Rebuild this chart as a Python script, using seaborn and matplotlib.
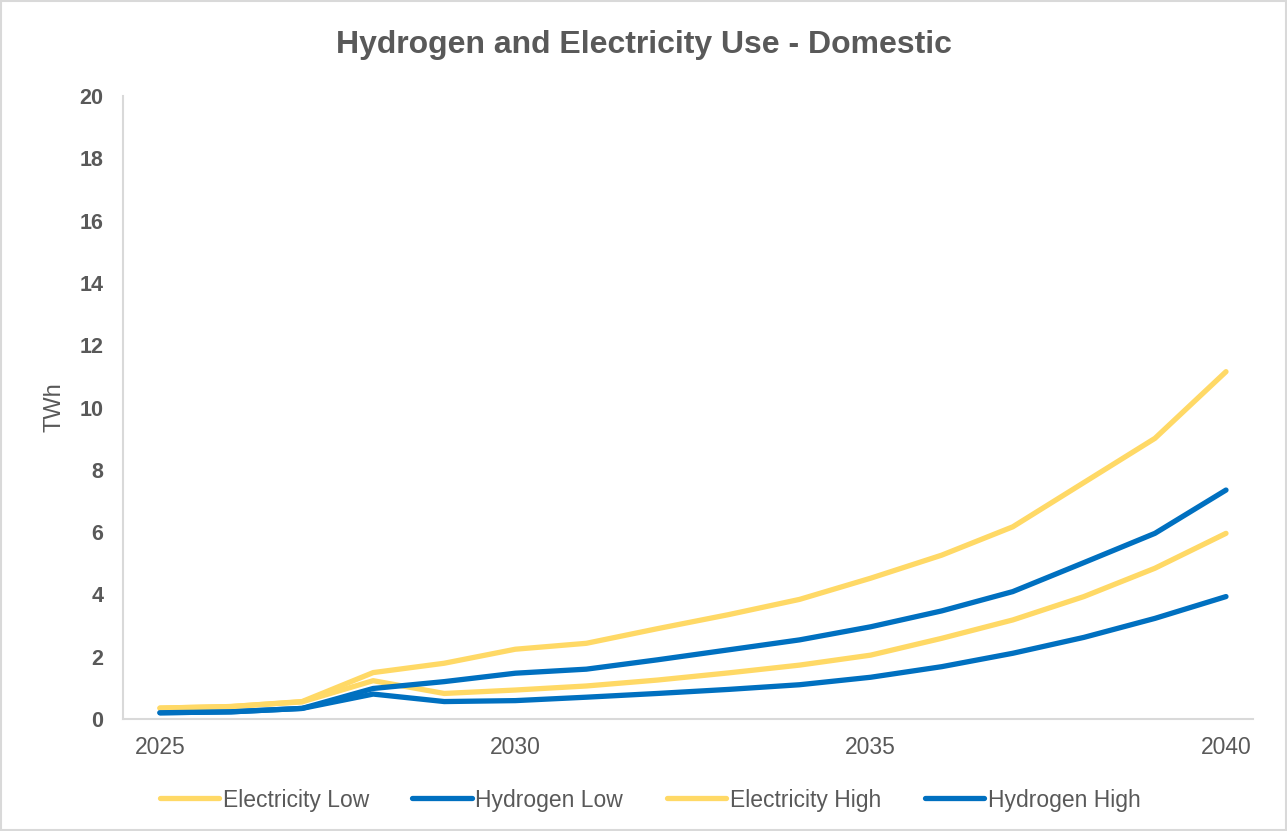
import pandas as pd
import matplotlib
matplotlib.use('Agg')
import matplotlib.pyplot as plt
import seaborn as sns

# Data (TWh)
years = list(range(2025, 2041))
electricity_low = [0.35, 0.40, 0.55, 1.23, 0.82, 0.93, 1.06, 1.25, 1.48, 1.73, 2.05, 2.59, 3.18, 3.93, 4.84, 5.96]
hydrogen_low = [0.20, 0.23, 0.34, 0.80, 0.56, 0.59, 0.70, 0.82, 0.95, 1.10, 1.34, 1.68, 2.11, 2.62, 3.23, 3.93]
electricity_high = [0.35, 0.40, 0.56, 1.49, 1.79, 2.24, 2.43, 2.90, 3.35, 3.84, 4.52, 5.26, 6.17, 7.59, 9.01, 11.15]
hydrogen_high = [0.20, 0.23, 0.34, 0.98, 1.20, 1.47, 1.60, 1.90, 2.22, 2.54, 2.96, 3.47, 4.09, 5.02, 5.96, 7.35]

series_names = ['Electricity Low', 'Hydrogen Low', 'Electricity High', 'Hydrogen High']
series_colors = ['#FFD966', '#0070C0', '#FFD966', '#0070C0']

df = pd.DataFrame({
    'year': years,
    'Electricity Low': electricity_low,
    'Hydrogen Low': hydrogen_low,
    'Electricity High': electricity_high,
    'Hydrogen High': hydrogen_high,
}).melt(id_vars='year', var_name='series', value_name='TWh')

sns.set_theme(style="white")
plt.rcParams['font.family'] = ['Liberation Sans', 'DejaVu Sans']

text_grey = '#595959'
axis_grey = '#D9D9D9'

fig = plt.figure(figsize=(12.87, 8.31), dpi=100)
ax = fig.add_axes([123 / 1287, 1 - 719 / 831, (1253 - 123) / 1287, (719 - 96) / 831])

sns.lineplot(data=df, x='year', y='TWh', hue='series', hue_order=series_names,
             palette=dict(zip(series_names, series_colors)), linewidth=3.8,
             solid_capstyle='round', ax=ax, legend=False)

ax.set_xlim(2024.48, 2040.38)
ax.set_ylim(0, 20)
ax.set_xticks([2025, 2030, 2035, 2040])
ax.set_yticks(range(0, 21, 2))
ax.tick_params(axis='x', labelsize=16.5, colors=text_grey, length=0, pad=12)
ax.tick_params(axis='y', labelsize=15.5, colors=text_grey, length=0, pad=14)
for lbl in ax.get_yticklabels():
    lbl.set_fontweight('bold')

ax.set_xlabel('')
ax.set_ylabel('TWh', fontsize=17, color=text_grey, labelpad=10)

for side in ['top', 'right']:
    ax.spines[side].set_visible(False)
for side in ['left', 'bottom']:
    ax.spines[side].set_color(axis_grey)
    ax.spines[side].set_linewidth(1.5)

fig.text(0.5, 1 - 45 / 831, 'Hydrogen and Electricity Use - Domestic', ha='center', va='center',
         fontsize=23, fontweight='bold', color=text_grey)

handles = [plt.Line2D([], [], color=c, linewidth=3.8, solid_capstyle='round') for c in series_colors]
fig.legend(handles, series_names, loc='center', bbox_to_anchor=(0.505, 1 - 800 / 831), ncol=4,
           frameon=False, fontsize=16.5, labelcolor=text_grey, handlelength=2.6,
           handletextpad=0.15, columnspacing=1.9)

# light outer border
fig.patches.append(plt.Rectangle((0.001, 0.001), 0.998, 0.998, transform=fig.transFigure,
                                 fill=False, edgecolor=axis_grey, linewidth=1.5))

fig.savefig('out.png', dpi=100)
